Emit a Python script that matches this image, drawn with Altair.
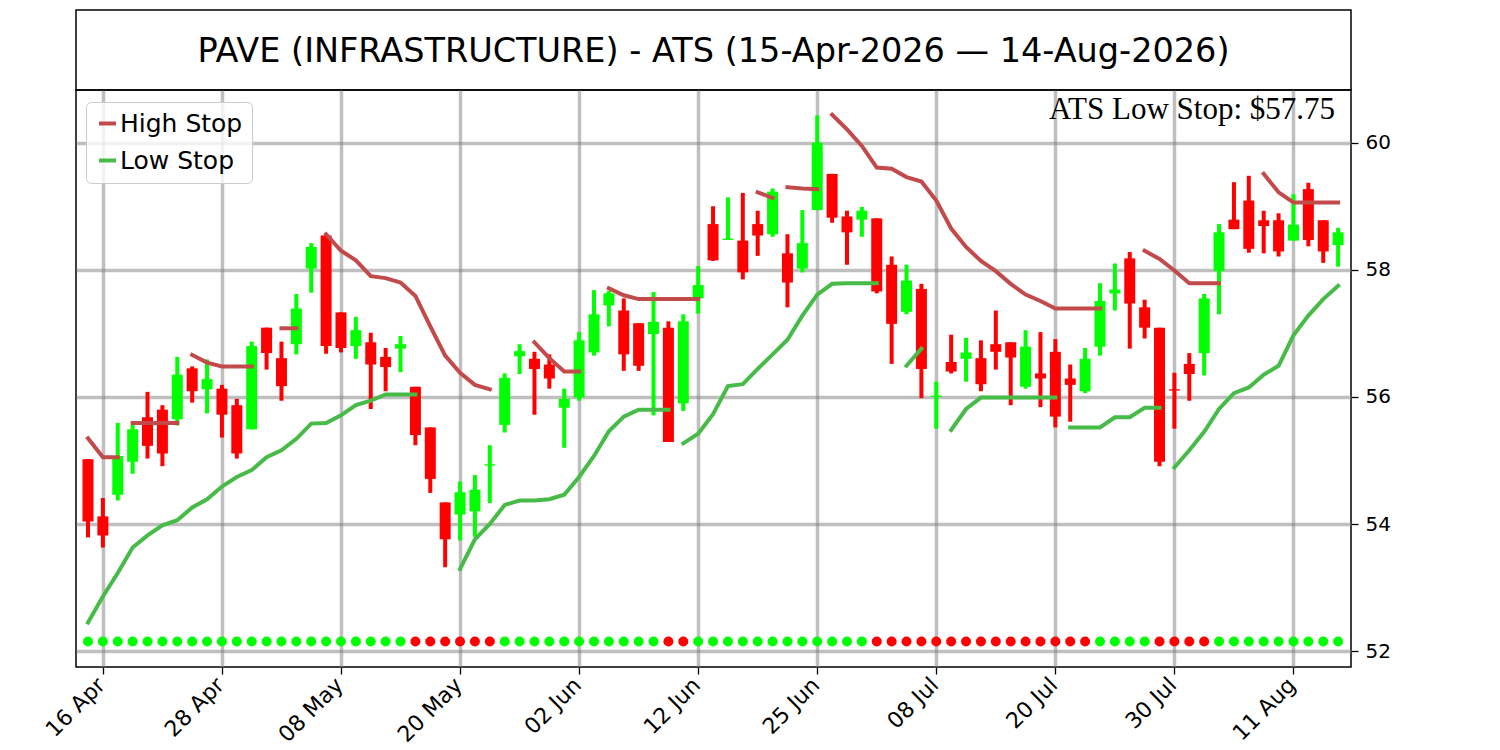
import altair as alt
import pandas as pd

title_text = "PAVE (INFRASTRUCTURE) - ATS (15-Apr-2026 — 14-Aug-2026)"

# daily OHLC, one row per trading day (index 0 = 15 Apr 2026)
opens = [55.02, 54.12, 54.46, 54.98, 55.68, 55.80, 55.65, 56.45, 56.12, 56.13,
         55.87, 55.49, 57.09, 56.61, 56.83, 58.02, 58.54, 57.33, 56.80, 56.86,
         56.63, 56.76, 56.16, 55.52, 54.34, 54.15, 54.20, 54.92, 55.56, 56.64,
         56.60, 56.51, 55.83, 55.99, 56.70, 57.44, 57.36, 57.16, 56.99, 57.09,
         55.90, 57.55, 58.72, 58.47, 58.46, 58.72, 58.56, 58.26, 58.02, 58.94,
         59.51, 58.84, 58.79, 58.81, 58.08, 57.34, 57.70, 56.00, 56.55, 56.60,
         56.61, 56.83, 56.86, 56.16, 56.37, 56.71, 56.29, 56.09, 56.79, 57.63,
         58.18, 57.41, 57.09, 56.12, 56.52, 56.69, 57.98, 58.79, 59.09, 58.78,
         58.78, 58.46, 59.27, 58.78, 58.39]
highs = [55.02, 54.41, 55.59, 55.56, 56.08, 55.87, 56.63, 56.48, 56.59, 56.19,
         55.97, 56.87, 57.09, 56.87, 57.62, 58.42, 58.54, 57.33, 57.26, 57.01,
         56.77, 56.96, 56.16, 55.52, 54.34, 54.67, 54.77, 55.24, 56.37, 56.83,
         56.71, 56.67, 56.13, 57.02, 57.68, 57.67, 57.55, 57.16, 57.65, 57.19,
         57.30, 58.06, 59.00, 59.14, 59.21, 58.93, 59.28, 58.56, 58.94, 60.43,
         59.51, 58.93, 58.99, 58.81, 58.21, 58.08, 57.78, 56.24, 56.98, 56.93,
         56.89, 57.36, 56.86, 57.05, 57.02, 56.91, 56.51, 56.77, 57.79, 58.10,
         58.28, 57.53, 57.09, 56.38, 56.69, 57.62, 58.72, 59.38, 59.48, 58.93,
         58.89, 59.19, 59.37, 58.78, 58.66]
lows = [53.79, 53.63, 54.37, 54.79, 55.03, 54.91, 55.55, 55.91, 55.74, 55.36,
        55.03, 55.49, 56.43, 55.94, 56.67, 57.64, 56.68, 56.70, 56.60, 55.81,
        56.09, 56.39, 55.24, 54.49, 53.32, 53.74, 53.80, 54.33, 55.44, 56.36,
        55.72, 56.13, 55.20, 55.94, 56.65, 57.11, 56.41, 56.41, 55.71, 55.29,
        55.78, 57.31, 58.14, 58.47, 57.85, 58.22, 58.52, 57.41, 57.96, 58.94,
        58.74, 58.08, 58.52, 57.63, 56.52, 57.30, 55.98, 55.50, 56.37, 56.24,
        56.09, 56.43, 55.87, 56.13, 55.84, 55.52, 55.61, 56.06, 56.65, 57.36,
        56.76, 56.92, 54.91, 55.50, 55.94, 56.34, 57.30, 58.64, 58.27, 58.26,
        58.21, 58.46, 58.37, 58.11, 58.05]
closes = [54.04, 53.82, 55.07, 55.49, 55.23, 55.11, 56.35, 56.09, 56.28, 55.72,
          55.11, 56.80, 56.69, 56.17, 57.39, 58.36, 56.80, 56.77, 57.05, 56.51,
          56.47, 56.83, 55.40, 54.71, 53.76, 54.50, 54.54, 54.94, 56.30, 56.72,
          56.44, 56.29, 55.97, 56.89, 57.30, 57.63, 56.67, 56.49, 57.18, 55.29,
          57.19, 57.76, 58.15, 58.49, 57.96, 58.54, 59.23, 57.80, 58.42, 60.00,
          58.82, 58.59, 58.93, 57.66, 57.15, 57.83, 56.44, 56.02, 56.40, 56.70,
          56.20, 56.71, 56.62, 56.79, 56.29, 55.69, 56.19, 56.60, 57.51, 57.69,
          57.47, 57.09, 54.98, 56.10, 56.36, 57.55, 58.59, 58.64, 58.33, 58.69,
          58.29, 58.71, 58.47, 58.29, 58.59]

# ATS trend state per day (1 = up, -1 = down), shown as dots along the bottom
trend = [1, 1, 1, 1, 1, 1, 1, 1, 1, 1, 1, 1, 1, 1, 1, 1, 1, 1, 1, 1,
         1, 1, -1, -1, -1, -1, -1, -1, 1, 1, 1, 1, 1, 1, 1, 1, 1, 1, 1, -1,
         -1, 1, 1, 1, 1, 1, 1, 1, 1, 1, 1, 1, 1, -1, -1, -1, -1, -1, -1, -1,
         -1, -1, -1, -1, -1, -1, -1, -1, 1, 1, 1, 1, -1, -1, -1, -1, 1, 1, 1, 1,
         1, 1, 1, 1, 1]

# stop lines: (first day index, values)
high_stop_segments = [
    (0, [55.35, 55.05, 55.05]),
    (3, [55.59, 55.59, 55.59, 55.59]),
    (7, [56.66, 56.54, 56.48, 56.48, 56.48]),
    (13, [57.08, 57.08]),
    (16, [58.56, 58.30, 58.15, 57.90, 57.87, 57.80, 57.59, 57.11, 56.65, 56.38,
          56.19, 56.12]),
    (30, [56.86, 56.61, 56.40, 56.40]),
    (35, [57.71, 57.60, 57.54, 57.54, 57.54, 57.54, 57.54]),
    (45, [59.22, 59.13]),
    (47, [59.30, 59.28, 59.27]),
    (50, [60.44, 60.21, 59.95, 59.61, 59.59, 59.46, 59.39, 59.09, 58.65, 58.36,
          58.14, 57.98, 57.78, 57.61, 57.51, 57.39, 57.39, 57.39, 57.39]),
    (71, [58.30, 58.17, 57.99, 57.79, 57.79, 57.79]),
    (79, [59.51, 59.22, 59.06, 59.06, 59.06, 59.06]),
]
low_stop_segments = [
    (0, [52.45, 52.86, 53.23, 53.63, 53.82, 53.98, 54.06, 54.26, 54.39, 54.59,
         54.74, 54.85, 55.05, 55.16, 55.34, 55.58, 55.59, 55.71, 55.87, 55.94,
         56.04, 56.04, 56.04]),
    (25, [53.29, 53.76, 54.00, 54.30, 54.37, 54.37, 54.39, 54.46, 54.74, 55.07,
          55.46, 55.69, 55.80, 55.80, 55.80]),
    (40, [55.27, 55.42, 55.73, 56.17, 56.20, 56.44, 56.67, 56.90, 57.28, 57.61,
          57.78, 57.79, 57.79, 57.79]),
    (55, [56.49, 56.76]),
    (58, [55.48, 55.81, 55.99, 55.99, 55.99, 55.99, 55.99, 55.99]),
    (66, [55.52, 55.52, 55.52, 55.68, 55.68, 55.83, 55.83]),
    (73, [54.89, 55.16, 55.45, 55.81, 56.06, 56.15, 56.35, 56.49, 56.97, 57.28,
          57.54, 57.75]),
]

tick_idx = [1, 9, 17, 25, 33, 41, 49, 57, 65, 73, 81]
tick_labels = ["16 Apr", "28 Apr", "08 May", "20 May", "02 Jun", "12 Jun",
               "25 Jun", "08 Jul", "20 Jul", "30 Jul", "11 Aug"]
y_ticks = [52, 54, 56, 58, 60]
dot_level = 52.15

UP = "#00ff00"
DOWN = "#ff0000"
HIGH_C = "#c24a4a"
LOW_C = "#47bb47"

candles = pd.DataFrame({
    "idx": list(range(len(opens))),
    "open": opens, "high": highs, "low": lows, "close": closes,
})
candles["dot"] = [UP if t > 0 else DOWN for t in trend]
candles["dot_y"] = dot_level

rows = []
for name, segs in (("High Stop", high_stop_segments), ("Low Stop", low_stop_segments)):
    for k, (start, vals) in enumerate(segs):
        for j, v in enumerate(vals):
            rows.append({"idx": start + j, "stop": v, "series": name, "seg": f"{name}-{k}"})
stops = pd.DataFrame(rows)

label_expr = ("[" + ",".join(f"'{s}'" for s in tick_labels) + "][indexof(["
              + ",".join(str(v) for v in tick_idx) + "], datum.value)]")

x_scale = alt.Scale(domain=[-0.47, 84.53], nice=False, zero=False)
y_scale = alt.Scale(domain=[51.75, 60.83], nice=False, zero=False)
x_axis = alt.Axis(values=tick_idx, labelExpr=label_expr, labelAngle=-45,
                  labelAlign="right", labelBaseline="top", labelPadding=0,
                  labelOffset=-9, labelFontSize=22, labelFlush=False, title=None)
y_axis = alt.Axis(values=y_ticks, orient="right", format="d", labelPadding=7,
                  labelFlush=False, title=None)


def xx():
    return alt.X("idx:Q", scale=x_scale, axis=x_axis)


def yy(field):
    return alt.Y(field, scale=y_scale, axis=y_axis)


candle_color = alt.when(alt.datum.close >= alt.datum.open).then(alt.value(UP)).otherwise(alt.value(DOWN))

base = alt.Chart(candles)
wicks = base.mark_rule(strokeWidth=4).encode(
    x=xx(), y=yy("low:Q"), y2="high:Q", color=candle_color
)
bodies = base.mark_bar(size=11).encode(
    x=xx(), y=yy("open:Q"), y2="close:Q", color=candle_color
)
dots = base.mark_circle(size=100, opacity=1).encode(
    x=xx(), y=yy("dot_y:Q"), color=alt.Color("dot:N", scale=None)
)
lines = alt.Chart(stops).mark_line(strokeWidth=4, strokeCap="square").encode(
    x=xx(), y=yy("stop:Q"), detail="seg:N",
    color=alt.Color("series:N",
                    scale=alt.Scale(domain=["High Stop", "Low Stop"], range=[HIGH_C, LOW_C]),
                    legend=alt.Legend(title=None, orient="none", legendX=10, legendY=92,
                                      symbolType="stroke", symbolSize=289,
                                      symbolStrokeWidth=4,
                                      labelFontSize=25, labelFont="DejaVu Sans",
                                      labelOffset=0, padding=9, rowPadding=11,
                                      strokeColor="#cccccc", cornerRadius=5,
                                      fillColor="rgba(255,255,255,0.8)", zindex=2)),
)
ats_text = alt.Chart(pd.DataFrame({"t": [f"ATS Low Stop: ${low_stop_segments[-1][1][-1]:.2f}"]})).mark_text(
    align="right", baseline="alphabetic", font="Liberation Serif", fontSize=31, color="black"
).encode(x=alt.value(1259), y=alt.value(29), text="t:N")

main = alt.layer(wicks, bodies, dots, lines, ats_text).properties(width=1275, height=577)

title_panel = alt.Chart(pd.DataFrame({"t": [title_text]})).mark_text(
    align="center", baseline="alphabetic", font="DejaVu Sans", fontSize=33.5, color="black"
).encode(x=alt.value(637.5), y=alt.value(52), text="t:N").properties(width=1275, height=80)

chart = alt.vconcat(title_panel, main, spacing=0, bounds="flush").properties(
    padding={"left": 32, "top": 1, "right": 10, "bottom": 5}
).configure_view(
    stroke="black", strokeWidth=1.5
).configure_axis(
    zindex=1, grid=True, gridColor="#808080", gridOpacity=0.5, gridWidth=3.5,
    domain=False, tickColor="black", tickWidth=1.3, tickSize=7,
    labelFont="DejaVu Sans", labelFontSize=20, labelColor="black"
)

chart.save("out.html", embed_options={"renderer": "svg", "actions": False})
